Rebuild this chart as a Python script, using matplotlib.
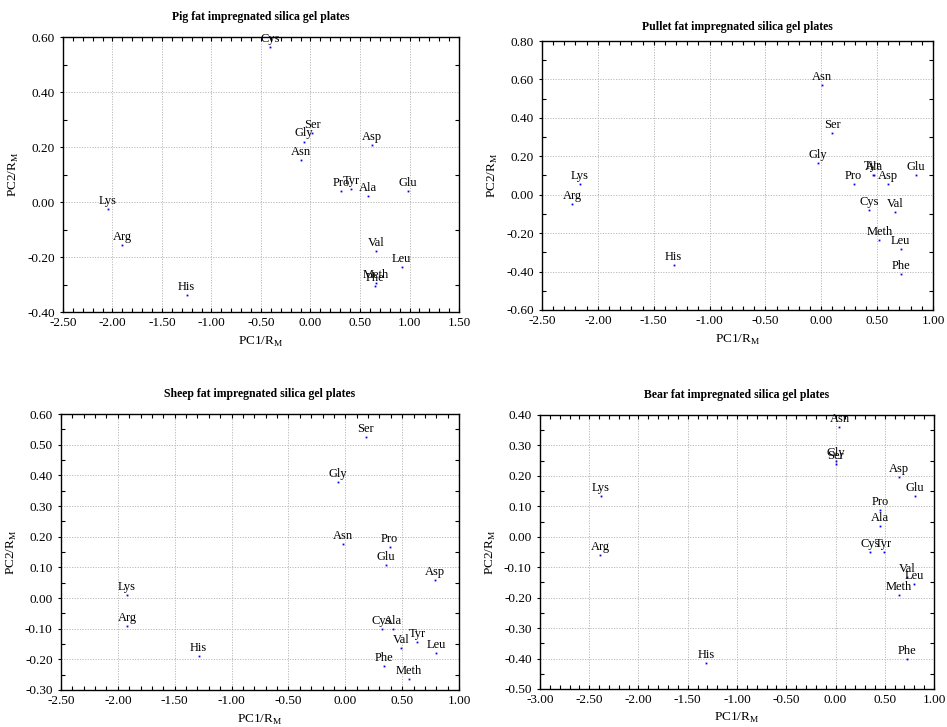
import numpy as np
import matplotlib
matplotlib.use("Agg")
import matplotlib.pyplot as plt
from matplotlib.ticker import MultipleLocator, FormatStrFormatter

plt.rcParams["font.family"] = ["Liberation Serif", "DejaVu Serif"]
plt.rcParams["axes.unicode_minus"] = False

# amino acid scores (PC1, PC2) for each fat-impregnated plate
pig_names = ["Cys", "Ser", "Gly", "Asn", "Asp", "Pro", "Tyr", "Ala", "Glu", "Lys",
             "Arg", "Val", "Leu", "Meth", "Phe", "His"]
pig_pc1 = [-0.41, 0.02, -0.07, -0.10, 0.62, 0.31, 0.41, 0.58, 0.98, -2.05,
           -1.90, 0.66, 0.92, 0.66, 0.65, -1.25]
pig_pc2 = [0.565, 0.25, 0.22, 0.152, 0.206, 0.041, 0.048, 0.023, 0.041, -0.026,
           -0.156, -0.179, -0.235, -0.295, -0.305, -0.339]

pullet_names = ["Asn", "Ser", "Gly", "Tyr", "Ala", "Pro", "Asp", "Glu", "Lys", "Arg",
                "Cys", "Val", "Meth", "Leu", "Phe", "His"]
pullet_pc1 = [0.01, 0.10, -0.03, 0.46, 0.475, 0.29, 0.60, 0.85, -2.16, -2.23,
              0.43, 0.66, 0.52, 0.71, 0.71, -1.32]
pullet_pc2 = [0.572, 0.319, 0.164, 0.105, 0.100, 0.055, 0.055, 0.100, 0.055, -0.048,
              -0.082, -0.091, -0.237, -0.284, -0.411, -0.366]

sheep_names = ["Ser", "Gly", "Asn", "Pro", "Glu", "Asp", "Lys", "Arg", "Cys", "Ala",
               "Tyr", "Val", "Leu", "His", "Phe", "Meth"]
sheep_pc1 = [0.18, -0.065, -0.024, 0.39, 0.36, 0.79, -1.92, -1.92, 0.32, 0.42,
             0.63, 0.49, 0.80, -1.29, 0.34, 0.56]
sheep_pc2 = [0.525, 0.377, 0.176, 0.165, 0.107, 0.058, 0.010, -0.090, -0.101, -0.101,
             -0.143, -0.163, -0.180, -0.190, -0.223, -0.265]

bear_names = ["Asn", "Gly", "Ser", "Asp", "Glu", "Lys", "Pro", "Ala", "Cys", "Tyr",
              "Arg", "Val", "Leu", "Meth", "Phe", "His"]
bear_pc1 = [0.04, 0.0, 0.0, 0.645, 0.81, -2.38, 0.455, 0.455, 0.35, 0.49,
            -2.39, 0.73, 0.80, 0.645, 0.73, -1.31]
bear_pc2 = [0.359, 0.25, 0.24, 0.197, 0.133, 0.133, 0.087, 0.036, -0.051, -0.051,
            -0.059, -0.132, -0.156, -0.190, -0.401, -0.414]


def scatter_panel(ax, title, names, pc1, pc2, xlim, ylim, ymajor, yminor, title_pad=12):
    ax.plot(pc1, pc2, "s", color="blue", markersize=1.3, markeredgewidth=0)
    for n, x, y in zip(names, pc1, pc2):
        ax.annotate(n, (x, y), xytext=(0, 1.5), textcoords="offset points",
                    ha="center", va="bottom", fontsize=9)
    ax.set_xlim(*xlim)
    ax.set_ylim(*ylim)
    ax.xaxis.set_major_locator(MultipleLocator(0.5))
    ax.xaxis.set_minor_locator(MultipleLocator(0.1))
    ax.yaxis.set_major_locator(MultipleLocator(ymajor))
    ax.yaxis.set_minor_locator(MultipleLocator(yminor))
    ax.xaxis.set_major_formatter(FormatStrFormatter("%.2f"))
    ax.yaxis.set_major_formatter(FormatStrFormatter("%.2f"))
    ax.tick_params(which="both", direction="in", top=True, right=True,
                   labelsize=9.5, width=0.8, length=3)
    ax.tick_params(axis="y", which="major", direction="out", length=2.5, right=False)
    ax.grid(True, which="major", linestyle=(0, (1.2, 1.5)), color="#b8b8b8", linewidth=0.7)
    for s in ax.spines.values():
        s.set_linewidth(1.0)
    ax.set_title(title, fontsize=8.5, fontweight="bold", pad=title_pad)
    ax.set_xlabel(r"PC1/R$_\mathregular{M}$", fontsize=9.5)
    ax.set_ylabel(r"PC2/R$_\mathregular{M}$", fontsize=9.5)


fig = plt.figure(figsize=(9.47, 7.27), dpi=100)
ax1 = fig.add_axes([0.0665, 0.5708, 0.4182, 0.3783])
ax2 = fig.add_axes([0.5723, 0.5736, 0.4129, 0.3700])
ax3 = fig.add_axes([0.0644, 0.0509, 0.4203, 0.3796])
ax4 = fig.add_axes([0.5702, 0.0523, 0.4161, 0.3769])

scatter_panel(ax1, "Pig fat impregnated silica gel plates", pig_names, pig_pc1, pig_pc2,
              (-2.5, 1.5), (-0.4, 0.6), 0.2, 0.1, title_pad=12)
scatter_panel(ax2, "Pullet fat impregnated silica gel plates", pullet_names, pullet_pc1, pullet_pc2,
              (-2.5, 1.0), (-0.6, 0.8), 0.2, 0.1, title_pad=8)
scatter_panel(ax3, "Sheep fat impregnated silica gel plates", sheep_names, sheep_pc1, sheep_pc2,
              (-2.5, 1.0), (-0.3, 0.6), 0.1, 0.05, title_pad=12)
scatter_panel(ax4, "Bear fat impregnated silica gel plates", bear_names, bear_pc1, bear_pc2,
              (-3.0, 1.0), (-0.5, 0.4), 0.1, 0.05, title_pad=12)

fig.savefig("out.png", dpi=100)
